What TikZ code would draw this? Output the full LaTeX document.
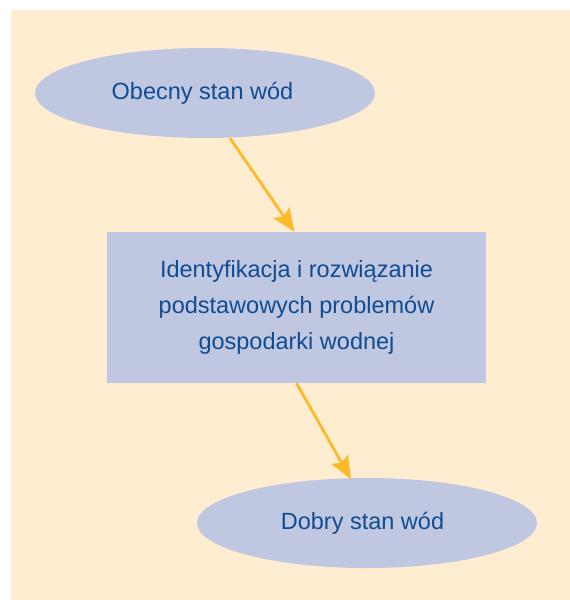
\documentclass[tikz,border=0pt]{standalone}
\usepackage{fontspec}
\setmainfont{Liberation Sans}
\usetikzlibrary{shapes.geometric,arrows.meta,calc}

\definecolor{paper}{RGB}{255,237,210}
\definecolor{lilac}{RGB}{192,199,225}
\definecolor{ink}{RGB}{16,76,145}
\definecolor{amber}{RGB}{253,185,39}

\tikzset{
  stateoval/.style={ellipse, fill=lilac, draw=none, minimum width=340pt,
    minimum height=90pt, inner sep=0pt},
  taskbox/.style={rectangle, fill=lilac, draw=none, minimum width=379pt,
    minimum height=151pt, inner sep=0pt, align=center, text=ink,
    font=\fontsize{23.5}{35.7}\selectfont},
  ovaltext/.style={text=ink, font=\fontsize{23.5}{28}\selectfont},
  flow/.style={draw=amber, line width=2.8pt,
    -{Stealth[length=23pt,width=19pt,inset=4pt]}},
}

\begin{document}
\begin{tikzpicture}[x=1pt,y=-1pt]
  \useasboundingbox (0,0) rectangle (570,600);
  \fill[paper] (11,10) rectangle (570,600);

  \node[stateoval, label={[ovaltext, xshift=-2.5pt]center:Obecny stan wód}] (now) at (205,93) {};
  \node[taskbox] (task) at (296.5,307.5)
    {Identyfikacja i rozwiązanie\\podstawowych problemów\\gospodarki wodnej};
  \node[stateoval, label={[ovaltext, xshift=-4.5pt]center:Dobry stan wód}] (goal) at (367,523) {};

  \draw[flow] ($(now.south)+(25,0)$) -- ($(task.north)+(-2,0)$);
  \draw[flow] (task.south) -- ($(goal.north)+(-16,1.5)$);
\end{tikzpicture}
\end{document}
